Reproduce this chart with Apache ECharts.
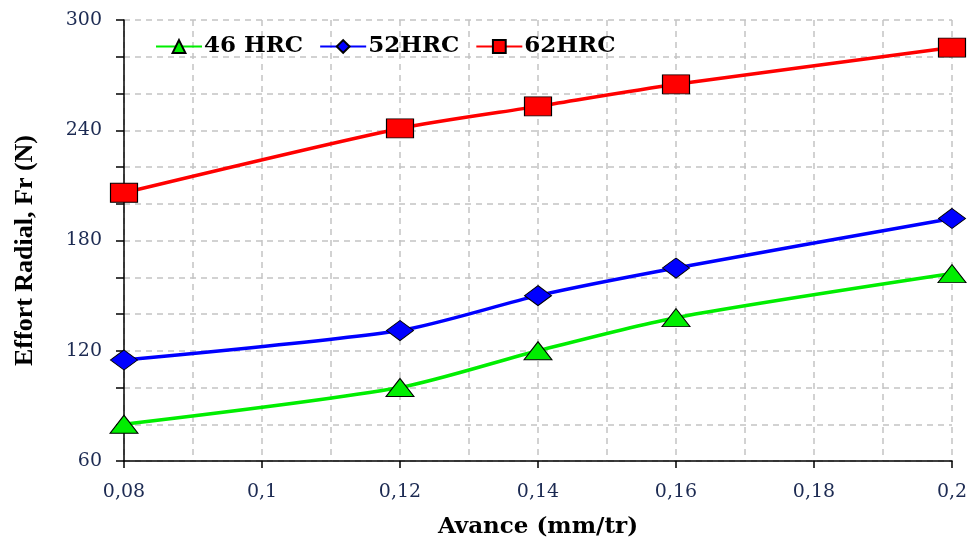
<!DOCTYPE html>
<html>
<head>
<meta charset="utf-8">
<script src="https://cdn.jsdelivr.net/npm/echarts@6/dist/echarts.min.js"></script>
<style>
  html, body { margin: 0; padding: 0; background: #fff; }
  #chart { width: 970px; height: 538px; }
</style>
</head>
<body>
<div id="chart"></div>
<script>
// Feed rate (mm/tr) and radial cutting force Fr (N) per workpiece hardness
const feeds = [0.08, 0.12, 0.14, 0.16, 0.2];
const fr46 = [80, 100, 120, 138, 162];
const fr52 = [115, 131, 150, 165, 192];
const fr62 = [206, 241, 253, 265, 285];
const seriesNames = ['46 HRC', '52HRC', '62HRC'];

const serifWide = '"DejaVu Serif", "Liberation Serif", serif';
const serifTall = '"Liberation Serif", "DejaVu Serif", serif';
const tickColor = '#1c2a52';
const gridLine = { color: '#c4c4c4', type: [6, 5], width: 1.5 };

function pairs(ys) {
  return feeds.map((x, i) => [x, ys[i]]);
}

function makeSeries(name, ys, color, symbol, size) {
  return {
    name: name,
    type: 'line',
    data: pairs(ys),
    smooth: 0.25,
    symbol: symbol,
    symbolSize: size,
    lineStyle: { color: color, width: 3.5 },
    itemStyle: { color: color, borderColor: '#000', borderWidth: 1 },
    emphasis: { disabled: true },
    z: 3
  };
}

const chart = echarts.init(document.getElementById('chart'), null, { renderer: 'canvas' });

chart.setOption({
  animation: false,
  backgroundColor: '#fff',
  grid: { left: 124, right: 18, top: 20, bottom: 77, containLabel: false, outerBoundsMode: 'none' },
  legend: {
    left: 150,
    top: 30,
    itemWidth: 46,
    itemHeight: 16,
    itemGap: 16,
    textStyle: { fontFamily: serifWide, fontWeight: 'bold', fontSize: 23, color: '#000', padding: [0, 0, 0, -3] },
    data: seriesNames
  },
  xAxis: {
    type: 'value',
    min: 0.08,
    max: 0.2,
    interval: 0.02,
    name: 'Avance (mm/tr)',
    nameLocation: 'middle',
    nameGap: 55,
    nameTextStyle: { fontFamily: serifWide, fontWeight: 'bold', fontSize: 23, color: '#000' },
    axisLine: { show: true, onZero: false, lineStyle: { color: '#000', width: 1.5 } },
    axisTick: { show: true, length: 7, lineStyle: { color: '#000', width: 1.5 } },
    minorTick: { show: false, splitNumber: 2 },
    axisLabel: {
      margin: 22,
      fontFamily: serifWide,
      fontSize: 19,
      color: tickColor,
      formatter: v => String(+v.toFixed(2)).replace('.', ',')
    },
    splitLine: { show: true, lineStyle: gridLine },
    minorSplitLine: { show: true, lineStyle: gridLine }
  },
  yAxis: {
    type: 'value',
    min: 60,
    max: 300,
    interval: 60,
    name: 'Effort Radial, Fr (N)',
    nameLocation: 'middle',
    nameGap: 86,
    nameTextStyle: { fontFamily: serifTall, fontWeight: 'bold', fontSize: 26, color: '#000', padding: [0, 20, 0, 0] },
    axisLine: { show: true, onZero: false, lineStyle: { color: '#000', width: 1.5 } },
    axisTick: { show: true, length: 8, lineStyle: { color: '#000', width: 1.5 } },
    minorTick: { show: true, splitNumber: 3, length: 8, lineStyle: { color: '#000', width: 1.5 } },
    axisLabel: {
      margin: 22,
      fontFamily: serifWide,
      fontSize: 19,
      color: tickColor
    },
    splitLine: { show: true, lineStyle: gridLine },
    minorSplitLine: { show: true, lineStyle: gridLine }
  },
  series: [
    makeSeries(seriesNames[0], fr46, '#00ee00', 'triangle', [28, 18]),
    makeSeries(seriesNames[1], fr52, '#0000ff', 'diamond', [27, 20]),
    makeSeries(seriesNames[2], fr62, '#ff0000', 'rect', [27, 19])
  ]
});
</script>
</body>
</html>
